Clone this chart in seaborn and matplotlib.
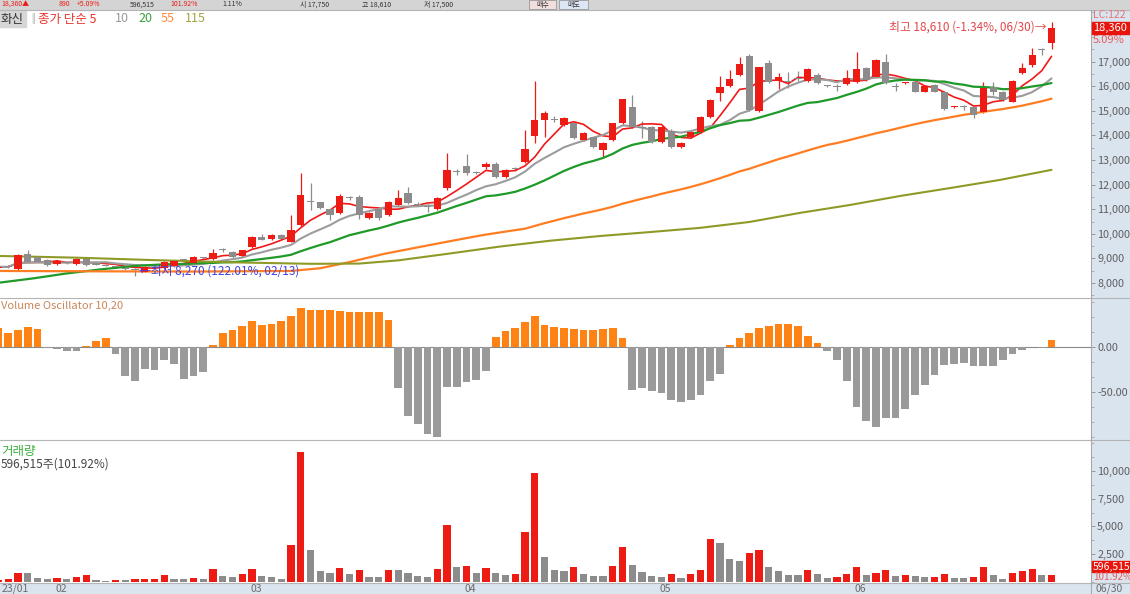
import numpy as np
import pandas as pd
import matplotlib
matplotlib.use("Agg")
import matplotlib.pyplot as plt
import matplotlib.transforms as mtransforms
from matplotlib.patches import Rectangle
from matplotlib.lines import Line2D
from matplotlib.ticker import FixedLocator, FuncFormatter, MultipleLocator
import seaborn as sns

# ---- daily candles (KRX trading days 2023-01-20 .. 2023-06-30) ----
holidays = ["2023-01-23", "2023-01-24", "2023-03-01", "2023-05-01",
            "2023-05-05", "2023-05-29", "2023-06-06"]
dates = pd.bdate_range("2023-01-20", "2023-06-30")
dates = dates[~dates.isin(pd.to_datetime(holidays))]

opens = [8620, 8680, 8560, 9180, 9070, 8930, 8770, 8850, 8770, 8960,
         8780, 8720, 8680, 8600, 8560, 8460, 8640, 8600, 8690, 8950,
         8810, 9030, 8960, 9350, 9270, 9090, 9450, 9850, 9770, 9960,
         9680, 10360, 11320, 11280, 11000, 10860, 11480, 11510, 10640, 11000,
         10770, 11170, 11650, 11200, 11130, 11000, 11850, 12520, 12760, 12490,
         12700, 12840, 12300, 12660, 12930, 13980, 14630, 14660, 14420, 14500,
         13810, 13920, 13400, 13800, 14520, 15140, 14320, 14360, 13740, 14180,
         13520, 13930, 14150, 14760, 15710, 16010, 16460, 17210, 14990, 16960,
         16220, 16180, 16310, 16220, 16460, 16020, 15960, 16090, 16180, 16730,
         16390, 17000, 16000, 16120, 16180, 15780, 16050, 15780, 15150, 15150,
         15170, 14960, 15980, 15780, 15370, 16520, 16860, 17480, 17750]
highs = [8700, 8720, 9160, 9340, 9100, 8960, 8920, 8870, 9000, 9050,
         8800, 8740, 8700, 8620, 8600, 8700, 8680, 8880, 8940, 8980,
         9080, 9060, 9400, 9420, 9300, 9360, 9900, 10000, 9980, 10000,
         10760, 12460, 12070, 11300, 11020, 11600, 11550, 11560, 10900, 11050,
         11350, 11800, 11900, 11300, 11200, 11500, 13270, 12650, 13230, 12550,
         12900, 12900, 12620, 12720, 14220, 16210, 15000, 14800, 14730, 14550,
         14150, 13950, 13750, 14520, 15500, 15640, 14600, 14400, 14400, 14250,
         13720, 14200, 14800, 15500, 16400, 16660, 17200, 17300, 16800, 17060,
         16540, 16560, 16600, 16720, 16520, 16060, 16100, 16660, 17400, 16780,
         17100, 17290, 16150, 16170, 16220, 16040, 16080, 15800, 15200, 15250,
         15200, 16180, 16190, 15800, 16250, 16930, 17540, 17540, 18610]
lows = [8600, 8620, 8540, 8850, 8850, 8700, 8740, 8760, 8750, 8700,
        8720, 8680, 8620, 8520, 8270, 8430, 8600, 8580, 8670, 8900,
        8800, 8980, 8940, 9250, 9020, 9060, 9420, 9730, 9750, 9770,
        9650, 10300, 10970, 11000, 10580, 10800, 11380, 10600, 10600, 10580,
        10740, 11130, 11200, 11120, 10900, 10950, 11800, 12380, 12400, 12420,
        12650, 12250, 12250, 12560, 12880, 13690, 13950, 14560, 14400, 13850,
        13780, 13480, 13130, 13770, 14480, 14300, 13900, 13700, 13700, 13480,
        13480, 13880, 14100, 14700, 15400, 15950, 16400, 14990, 14950, 16150,
        15900, 15930, 16200, 16180, 16080, 15980, 15800, 16050, 16150, 16200,
        16350, 16100, 15800, 16100, 15750, 15760, 15760, 15040, 15130, 15050,
        14690, 14930, 15650, 15400, 15340, 16480, 16800, 17270, 17500]
closes = [8660, 8650, 9140, 8870, 8870, 8730, 8900, 8800, 8960, 8730,
          8750, 8700, 8650, 8550, 8530, 8660, 8620, 8870, 8900, 8930,
          9060, 9000, 9230, 9340, 9040, 9340, 9880, 9750, 9960, 9790,
          10150, 11580, 11280, 11040, 10760, 11540, 11450, 10770, 10850, 10640,
          11300, 11450, 11250, 11170, 11100, 11450, 12590, 12500, 12480, 12480,
          12840, 12300, 12590, 12650, 13430, 14630, 14930, 14630, 14700, 13880,
          14110, 13520, 13700, 14490, 15470, 14360, 14290, 13740, 14360, 13520,
          13680, 14150, 14760, 15440, 15980, 16280, 16890, 15030, 16770, 16180,
          16390, 16160, 16300, 16690, 16120, 16010, 15950, 16320, 16690, 16250,
          17070, 16140, 15980, 16150, 15780, 16010, 15780, 15060, 15170, 15140,
          14830, 15910, 15780, 15440, 16220, 16750, 17270, 17470, 18360]
# volume in thousand shares
volume_k = [180, 240, 840, 830, 390, 240, 330, 240, 420, 600,
            180, 120, 210, 150, 240, 270, 300, 660, 270, 240,
            360, 270, 1170, 570, 420, 690, 1170, 540, 480, 240,
            3330, 11730, 2880, 990, 840, 1260, 720, 1110, 450, 420,
            1050, 1040, 840, 540, 480, 1170, 5130, 1380, 1410, 840,
            1260, 840, 660, 690, 4470, 9780, 2220, 1110, 960, 1320,
            750, 570, 540, 1470, 3120, 1560, 900, 540, 450, 720,
            360, 690, 1050, 3840, 3480, 2040, 1860, 2640, 2880, 1320,
            960, 660, 600, 1050, 750, 360, 480, 750, 1380, 600,
            810, 1110, 540, 600, 510, 420, 450, 690, 360, 350,
            420, 1350, 600, 270, 840, 1020, 1170, 585.3, 596.515]
# Volume Oscillator 10,20
vol_osc = [22, 16, 19, 23, 20, -1, -2, -4, -4, 2,
           7, 10, -7, -32, -37, -24, -25, -14, -18, -35,
           -32, -27, 3, 16, 19, 24, 29, 25, 26, 29,
           35, 44, 42, 41, 41, 40, 39, 39, 39, 39,
           30, -45, -76, -85, -96, -100, -44, -44, -38, -36,
           -26, 12, 18, 21, 28, 35, 25, 23, 21, 20,
           19, 19, 20, 21, 10, -47, -45, -48, -51, -59,
           -61, -58, -53, -37, -30, 3, 10, 16, 22, 24,
           26, 26, 24, 13, 5, -4, -14, -37, -66, -82,
           -88, -79, -78, -69, -53, -42, -31, -20, -19, -17,
           -21, -21, -21, -14, -7, -3, 0, -1, 8]

ma20_head_x = [0, 3.6, 7, 10.4, 13.8, 17]
ma20_head_y = [8010, 8190, 8390, 8550, 8690, 8760]
ma55_head_x = [0, 10, 20, 30, 33, 36, 39.5, 43, 46.3, 49.7, 52]
ma55_head_y = [8490, 8475, 8465, 8490, 8600, 8850, 9180, 9450, 9700, 9950, 10090]
ma115_x = [0, 8, 16, 24, 32, 37, 41, 46.3, 51.4, 56.6, 61.7, 66.8, 71.9,
           77, 82.2, 87.3, 92.5, 97.6, 102.7, 108]
ma115_y = [9100, 9030, 8930, 8840, 8780, 8790, 8920, 9200, 9480, 9720, 9910, 10070, 10240,
           10480, 10850, 11170, 11540, 11860, 12190, 12600]

price_ticks = [8000, 9000, 10000, 11000, 12000, 13000, 14000, 15000, 16000, 17000]
osc_ticks = [0, -50]
vol_ticks = [2500, 5000, 7500, 10000]

RED = "#ec1c14"
GRAY = "#8c8c8c"
ORANGE = "#ff8214"
STRIP = "#dae4ef"
W, H = 1130, 594

sns.set_style("white")
plt.rcParams["font.family"] = ["Noto Sans CJK KR", "DejaVu Sans"]
plt.rcParams["axes.unicode_minus"] = False

df = pd.DataFrame({"open": opens, "high": highs, "low": lows, "close": closes,
                   "volume": volume_k, "vo": vol_osc}, index=dates)
df["x"] = np.arange(len(df))
df["ma5"] = df["close"].rolling(5, min_periods=1).mean()
df["ma10"] = df["close"].rolling(10, min_periods=1).mean()
df["ma20"] = df["close"].rolling(20).mean()
df["ma55"] = df["close"].rolling(55).mean()


def fx(px):
    return px / W


def fy(py):
    return 1 - py / H


def px_rect(x0, y0, x1, y1):
    return [x0 / W, 1 - y1 / H, (x1 - x0) / W, (y1 - y0) / H]


fig = plt.figure(figsize=(W / 100, H / 100), dpi=100)
fig.patch.set_facecolor("white")

# window chrome: toolbar, right scale strip, bottom date strip
fig.add_artist(Rectangle((0, fy(9)), 1, 9 / H, transform=fig.transFigure,
                         color="#d4d4d4", zorder=-5))
fig.add_artist(Rectangle((fx(1091), 0), 1 - fx(1091), fy(10), transform=fig.transFigure,
                         color=STRIP, zorder=-5))
fig.add_artist(Rectangle((0, 0), 1, 11 / H, transform=fig.transFigure,
                         color=STRIP, zorder=-5))
for yy in [10, 297.5, 439.5, 583]:
    fig.add_artist(Line2D([0, 1], [fy(yy), fy(yy)], transform=fig.transFigure,
                          color="#b4b4b4", lw=0.8))
fig.add_artist(Line2D([fx(1091), fx(1091)], [0, fy(10)], transform=fig.transFigure,
                      color="#a8a8a8", lw=0.8))

# toolbar line (small, fits in the 9 px band)
bar_items = [("18,360▲", 1, RED), ("890", 59, RED), ("+5.09%", 77, RED),
             ("596,515", 130, "#333333"), ("101.92%", 170, RED), ("1.11%", 222, "#333333"),
             ("시 17,750", 300, "#333333"), ("고 18,610", 362, "#333333"),
             ("저 17,500", 424, "#333333")]
for s, xp, col in bar_items:
    fig.text(fx(xp), fy(4.5), s, color=col, fontsize=5, va="center", ha="left")
fig.add_artist(Rectangle((fx(529), fy(9)), 27 / W, 9 / H, transform=fig.transFigure,
                         facecolor="#f3dede", edgecolor="#999999", lw=0.6))
fig.add_artist(Rectangle((fx(559), fy(9)), 29 / W, 9 / H, transform=fig.transFigure,
                         facecolor="#dde6f5", edgecolor="#999999", lw=0.6))
fig.text(fx(542.5), fy(4.5), "매수", fontsize=5, ha="center", va="center", color="#333333")
fig.text(fx(573.5), fy(4.5), "매도", fontsize=5, ha="center", va="center", color="#333333")

ax_p = fig.add_axes(px_rect(0, 10, 1091, 297))
ax_o = fig.add_axes(px_rect(0, 297, 1091, 439))
ax_v = fig.add_axes(px_rect(0, 439, 1091, 583))

x = df["x"].to_numpy()
o = df["open"].to_numpy()
c = df["close"].to_numpy()
candle_cols = np.where(c > o, RED, GRAY)

# ---- price panel ----
ax_p.vlines(x, df["low"], df["high"], colors=candle_cols, lw=0.9, zorder=2)
ax_p.bar(x, np.maximum(np.abs(c - o), 45), bottom=np.minimum(o, c), width=0.72,
         color=candle_cols, lw=0, zorder=3)

ma_lines = [
    (x, df["ma5"].to_numpy(), "#f01818", 1.2),
    (x, df["ma10"].to_numpy(), "#9c9c9c", 1.5),
    (ma20_head_x + list(x[19:]), ma20_head_y + list(df["ma20"].to_numpy()[19:]), "#1f9a28", 1.6),
    (ma55_head_x + list(x[54:]), ma55_head_y + list(df["ma55"].to_numpy()[54:]), "#ff7d22", 1.6),
    (ma115_x, ma115_y, "#8f9a26", 1.5),
]
for lx, ly, col, lw in ma_lines:
    sns.lineplot(x=lx, y=ly, ax=ax_p, color=col, lw=lw, sort=False, estimator=None, zorder=2.5)

xlim = (0.154, 112.05)
ax_p.set_xlim(xlim)
ax_p.set_ylim(7431, 19098)

hi_i = int(np.argmax(highs))
lo_i = int(np.argmin(lows))
last = closes[-1]
ax_p.annotate(f"최고 {highs[hi_i]:,} ({(last / highs[hi_i] - 1) * 100:.2f}%, {dates[hi_i]:%m/%d})→",
              xy=(hi_i, highs[hi_i]), xytext=(-3.5, -3.5), textcoords="offset points",
              ha="right", va="center", color="#e4464a", fontsize=8.5)
ax_p.annotate(f"←최저 {lows[lo_i]:,} ({(last / lows[lo_i] - 1) * 100:.2f}%, {dates[lo_i]:%m/%d})",
              xy=(lo_i, lows[lo_i]), xytext=(3, 3.5), textcoords="offset points",
              ha="left", va="center", color="#4242e2", fontsize=8.5)

# legend line
fig.add_artist(Rectangle((0, fy(27)), 26 / W, 16 / H, transform=fig.transFigure,
                         color="#d6d6d6", zorder=1))
fig.text(fx(1), fy(19), "화신", fontsize=9, color="#333333", va="center")
fig.text(fx(28), fy(19), "‖", fontsize=7, color="#666666", va="center")
for s, xp, col in [("종가 단순 5", 38, "#e8322c"), ("10", 115, "#9a9a9a"), ("20", 138, "#3aa03a"),
                   ("55", 161, "#ff8a3c"), ("115", 185, "#a4a444")]:
    fig.text(fx(xp), fy(19), s, fontsize=9, color=col, va="center")

# ---- volume oscillator ----
ax_o.bar(x, df["vo"], width=0.78, color=np.where(df["vo"] >= 0, ORANGE, "#9a9a9a"), lw=0)
ax_o.axhline(0, color="#8a8a8a", lw=0.8, zorder=0)
ax_o.set_xlim(xlim)
ax_o.set_ylim(-101.8, 55.9)
fig.text(fx(1), fy(305.5), "Volume Oscillator 10,20", fontsize=8, color="#c8875a", va="center")

# ---- volume ----
vol = df["volume"].to_numpy()
vol_up = np.r_[True, np.diff(vol) > 0]
ax_v.bar(x, vol, width=0.72, color=np.where(vol_up, RED, GRAY), lw=0)
ax_v.set_xlim(xlim)
ax_v.set_ylim(-90, 12870)
fig.text(fx(1), fy(451), "거래량", fontsize=9, color="#3cb03c", va="center")
fig.text(fx(1), fy(464.5), f"{vol[-1] * 1000:,.0f}주({vol[-1] / vol[-2] * 100:.2f}%)",
         fontsize=8.5, color="#444444", va="center")

# ---- right-hand scales ----
fmt_int = FuncFormatter(lambda v, p: f"{v:,.0f}")
for ax, ticks, fmt, minor in [(ax_p, price_ticks, fmt_int, 500),
                              (ax_o, osc_ticks, FuncFormatter(lambda v, p: f"{v:.2f}"), 50 / 3),
                              (ax_v, vol_ticks, fmt_int, 1250)]:
    ax.yaxis.tick_right()
    ax.yaxis.set_major_locator(FixedLocator(ticks))
    ax.yaxis.set_major_formatter(fmt)
    ax.yaxis.set_minor_locator(MultipleLocator(minor))
    ax.tick_params(axis="y", which="major", direction="out", length=3, width=0.6,
                   color="#8a8a8a", labelsize=7.8, labelcolor="#5e5e5e", pad=1.5)
    ax.tick_params(axis="y", which="minor", direction="out", length=2, width=0.5, color="#9a9a9a")
    ax.set_xticks([])
    ax.set_xlabel("")
    ax.set_ylabel("")
    for sp in ax.spines.values():
        sp.set_visible(False)
    ax.set_facecolor("white")

# last price / change marker on the price scale
y_last = ax_p.transData.transform((0, last))[1]
py_last = H - y_last
fig.add_artist(Rectangle((fx(1092), fy(py_last + 6)), 40 / W, 12 / H, transform=fig.transFigure,
                         color="#e8140c", zorder=5))
fig.text(fx(1093.5), fy(py_last), f"{last:,}", fontsize=8, color="white", va="center", zorder=6)
fig.text(fx(1093), fy(py_last - 13.5), "LC:122", fontsize=7.5, color="#e47474", va="center")
fig.text(fx(1093), fy(py_last + 12), f"{(last / closes[-2] - 1) * 100:.2f}%", fontsize=8,
         color="#e85a5a", va="center", zorder=6)

# last volume marker
fig.add_artist(Rectangle((fx(1092), fy(572)), 40 / W, 11 / H, transform=fig.transFigure,
                         color="#e8140c", zorder=5))
fig.text(fx(1093), fy(566.5), f"{vol[-1] * 1000:,.0f}", fontsize=7.5, color="white",
         va="center", zorder=6)
fig.text(fx(1093), fy(577.5), f"{vol[-1] / vol[-2] * 100:.2f}%", fontsize=7, color="#e85a5a",
         va="center", zorder=6)

# ---- date strip ----
month_first = df.groupby(df.index.to_period("M"))["x"].first()
tick_pos = [p - 0.5 for p in month_first.to_numpy() if p > 0]
ax_v.set_xticks(tick_pos)
ax_v.set_xticklabels([])
ax_v.tick_params(axis="x", direction="out", length=3, width=0.6, color="#9a9a9a")
strip_tr = mtransforms.blended_transform_factory(ax_v.transData, fig.transFigure)
for per, p in month_first.items():
    lab = per.strftime("%y/%m") if p == 0 else per.strftime("%m")
    xs = 0.3 if p == 0 else p - 0.5 + 0.3
    ax_v.text(xs, fy(588.5), lab, transform=strip_tr, fontsize=7.5, color="#6a6a6a",
              ha="left", va="center", clip_on=False)
fig.text(fx(1095), fy(588.5), f"{dates[-1]:%m/%d}", fontsize=7.5, color="#6a6a6a", va="center")

fig.savefig("out.png", dpi=100, facecolor="white")
